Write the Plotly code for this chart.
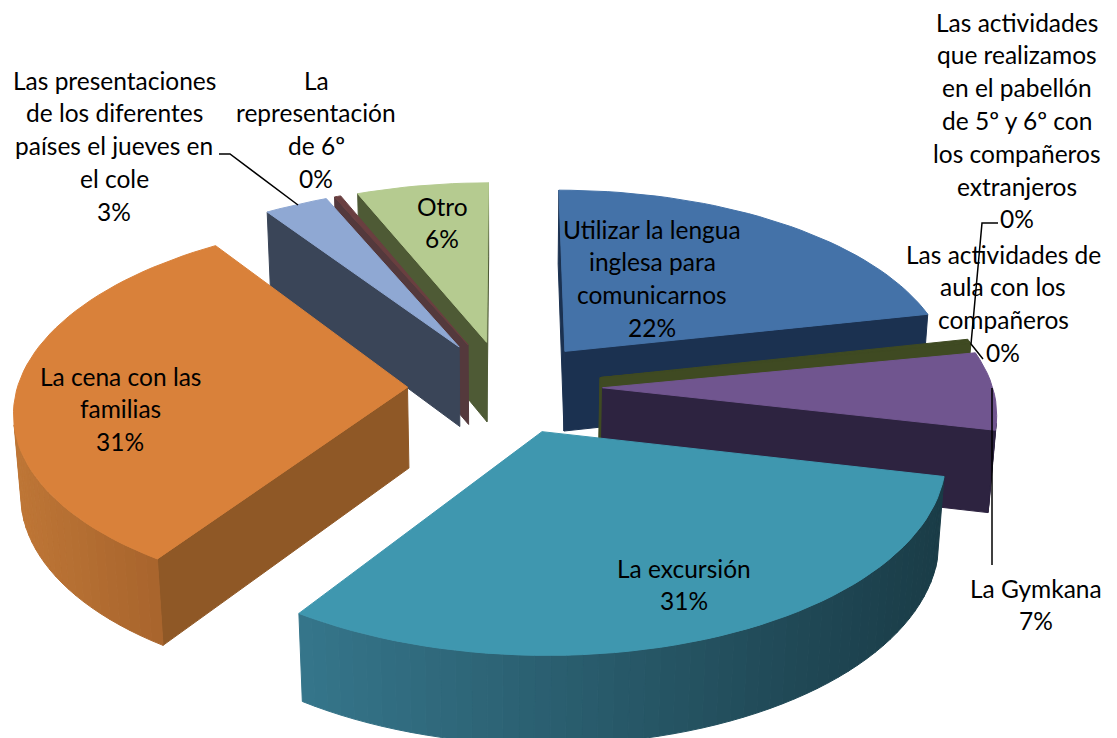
import math
import plotly.graph_objects as go

# ---- data ----
categories = ["Utilizar la lengua inglesa para comunicarnos",
              "Las actividades que realizamos en el pabellón de 5º y 6º con los compañeros extranjeros",
              "Las actividades de aula con los compañeros",
              "La Gymkana", "La excursión", "La cena con las familias",
              "Las presentaciones de los diferentes países el jueves en el cole",
              "La representación de 6º", "Otro"]
values = [21.6, 0.3, 0.05, 6.6, 30.85, 31.1, 3, 0.3, 6.2]
top_colors = ["#4472A8", "#3F4A22", "#3F4A22", "#70558F", "#3F97AF", "#D9813A", "#8FA8D3", "#6A3F40", "#B5CB90"]
side_colors = ["#1B3150", "#3F4A22", "#3F4A22", "#2D2340", "#1A3D48", "#8F5826", "#3A4558", "#54393C", "#4E5A35"]
rim_left = ["#1B3150", "#3F4A22", "#3F4A22", "#2D2340", "#35758A", "#BE7636", "#3A4558", "#54393C", "#4E5A35"]
rim_right = ["#1B3150", "#3F4A22", "#3F4A22", "#2D2340", "#1A3C47", "#A9652D", "#3A4558", "#54393C", "#4E5A35"]

label_lines = [
    ["Utilizar la lengua", "inglesa para", "comunicarnos", "22%"],
    ["Las actividades", "que realizamos", "en el pabellón", "de 5º y 6º con", "los compañeros", "extranjeros", "0%"],
    ["Las actividades de", "aula con los", "compañeros", "0%"],
    ["La Gymkana", "7%"],
    ["La excursión", "31%"],
    ["La cena con las", "familias", "31%"],
    ["Las presentaciones", "de los diferentes", "países el jueves en", "el cole", "3%"],
    ["La", "representación", "de 6º", "0%"],
    ["Otro", "6%"],
]
label_x = [652, 1017, 1003, 1036, 684, 120, 114, 316, 442]
label_y = [229, 22, 254, 588, 568, 376, 80, 80, 206]
label_dy = 32.8
leader_x = [[219, 230, 298], [998, 982, 971, 983], [992, 992]]
leader_y = [[154, 154, 205], [223, 223, 344, 359], [565, 388]]

# ---- view ----
F, K, S, CX, CY = 390.0, 0.114, 0.48, 505.0, 387.0
C = math.sqrt(1 - S * S)
EXPLODE, H, START = 0.25, 0.24, 0.0


def proj(X, Y, Z):
    w = 1 + K * (Y - Z * S / C)
    return CX + F * X / w, CY - F * (S * Y + C * Z) / w


def hex2rgb(h):
    return [int(h[i:i + 2], 16) for i in (1, 3, 5)]


def mix(a, b, t):
    p, q = hex2rgb(a), hex2rgb(b)
    return "rgb(%d,%d,%d)" % tuple(round(p[i] + (q[i] - p[i]) * t) for i in range(3))


def area(pts):
    return sum(pts[i][0] * pts[(i + 1) % len(pts)][1] - pts[(i + 1) % len(pts)][0] * pts[i][1] for i in range(len(pts))) / 2


fig = go.Figure()


def poly(pts, color):
    xs = [p[0] for p in pts] + [pts[0][0]]
    ys = [p[1] for p in pts] + [pts[0][1]]
    fig.add_trace(go.Scatter(x=xs, y=ys, mode="lines", fill="toself", fillcolor=color,
                             line=dict(color=color, width=1), hoverinfo="skip", showlegend=False))


total = sum(values)
wedges, ang = [], START
for i, v in enumerate(values):
    a0, a1 = ang, ang + v / total * 360
    ang = a1
    mid = math.radians((a0 + a1) / 2)
    ox, oy = EXPLODE * math.sin(mid), EXPLODE * math.cos(mid)
    wedges.append((oy, i, a0, a1, ox))

for oy, i, a0, a1, ox in sorted(wedges, key=lambda t: -t[0]):
    n = max(2, int((a1 - a0) / 2))
    angs = [math.radians(a0 + (a1 - a0) * j / n) for j in range(n + 1)]
    rim = [(ox + math.sin(a), oy + math.cos(a)) for a in angs]
    apex = (ox, oy)
    for pts in ([proj(*apex, 0), proj(*rim[0], 0), proj(*rim[0], -H), proj(*apex, -H)],
                [proj(*rim[-1], 0), proj(*apex, 0), proj(*apex, -H), proj(*rim[-1], -H)]):
        if area(pts) < 0:
            poly(pts, side_colors[i])
    quads = []
    for j in range(n):
        pts = [proj(*rim[j], 0), proj(*rim[j + 1], 0), proj(*rim[j + 1], -H), proj(*rim[j], -H)]
        if area(pts) < 0:
            quads.append(pts)
    if quads:
        xmin = min(q[0][0] for q in quads)
        xmax = max(q[0][0] for q in quads)
        for pts in quads:
            t = (pts[0][0] - xmin) / max(1, xmax - xmin)
            poly(pts, mix(rim_left[i], rim_right[i], t))
    poly([proj(*apex, 0)] + [proj(*r, 0) for r in rim], top_colors[i])

for lx, ly in zip(leader_x, leader_y):
    fig.add_trace(go.Scatter(x=lx, y=ly, mode="lines", line=dict(color="#000000", width=1.5),
                             hoverinfo="skip", showlegend=False))

for lines, x, y in zip(label_lines, label_x, label_y):
    for k, t in enumerate(lines):
        fig.add_annotation(x=x, y=y + k * label_dy, text=t, showarrow=False, xanchor="center", yanchor="middle",
                           font=dict(family="Lato", size=24.5, color="#000000"))

fig.update_layout(width=1117, height=738, margin=dict(l=0, r=0, t=0, b=0), paper_bgcolor="white",
                  plot_bgcolor="white", showlegend=False,
                  xaxis=dict(range=[0, 1117], visible=False, fixedrange=True),
                  yaxis=dict(range=[738, 0], visible=False, fixedrange=True))
fig.write_html("out.html", post_script="document.body.style.margin='0';", config=dict(displayModeBar=False))
